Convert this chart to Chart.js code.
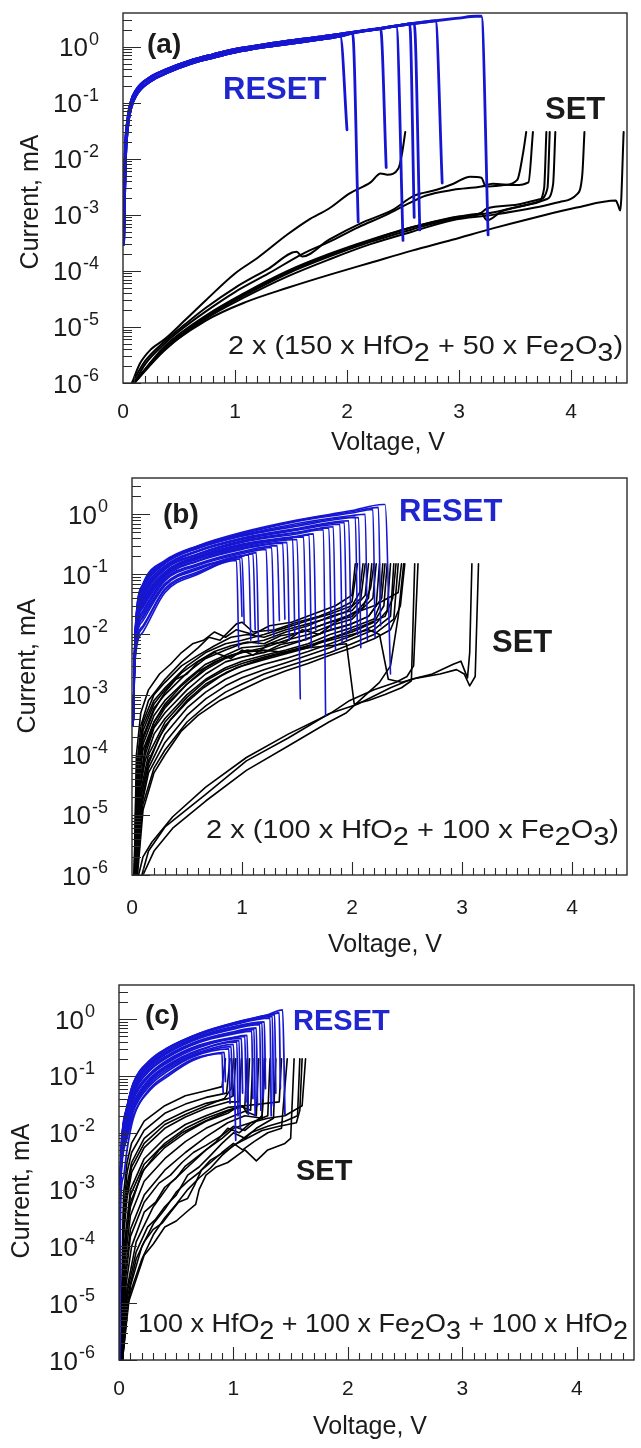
<!DOCTYPE html>
<html>
<head>
<meta charset="utf-8">
<script src="https://cdn.jsdelivr.net/npm/chart.js@4.4.0/dist/chart.umd.min.js"></script>
<style>
  html, body { margin: 0; padding: 0; background: #fff; }
  #wrap { position: relative; width: 641px; height: 1448px; overflow: hidden; }
  canvas { position: absolute; left: 0; }
</style>
</head>
<body>
<div id="wrap">
  <canvas id="chartA" width="641" height="470" style="top:0px"></canvas>
  <canvas id="chartB" width="641" height="490" style="top:470px"></canvas>
  <canvas id="chartC" width="641" height="488" style="top:960px"></canvas>
</div>
<script>
// ---- axis ticks (shared) ----
const xTicks = [0, 1, 2, 3, 4];
const yExponents = [0, -1, -2, -3, -4, -5, -6];

// ---- labels ----
const compA = [['2 x (150 x HfO', 0], ['2', 1], [' + 50 x Fe', 0], ['2', 1], ['O', 0], ['3', 1], [')', 0]];
const compB = [['2 x (100 x HfO', 0], ['2', 1], [' + 100 x Fe', 0], ['2', 1], ['O', 0], ['3', 1], [')', 0]];
const compC = [['100 x HfO', 0], ['2', 1], [' + 100 x Fe', 0], ['2', 1], ['O', 0], ['3', 1], [' + 100 x HfO', 0], ['2', 1]];

// ---- panel (a) : voltage V, current mA ----
const riseAlo = [[0.005,3e-4],[0.02,8e-3],[0.04,0.035],[0.07,0.08],[0.12,0.14],[0.24,0.24],[0.4,0.35],[0.6,0.5],[0.8,0.64],[1.0,0.8],[1.25,0.98],[1.5,1.15],[1.75,1.35],[1.94,1.55],[2.05,1.75],[2.3,2.1],[2.44,2.3]];
const riseAhi = [[0.005,3e-4],[0.02,0.012],[0.04,0.045],[0.07,0.1],[0.12,0.17],[0.24,0.28],[0.4,0.4],[0.6,0.56],[0.8,0.72],[1.0,0.9],[1.25,1.08],[1.5,1.28],[1.75,1.48],[2.0,1.75],[2.25,2.05],[2.5,2.45],[2.75,2.85],[3.0,3.25],[3.15,3.5]];
// [rise branch (0 = lower, 1 = upper), reset voltage, current at reset, end voltage, end current]
const resetDropsA = [
  [0, 1.94, 1.55, 2.0, 0.033], [0, 2.05, 1.75, 2.1, 7.5e-4], [0, 2.3, 2.1, 2.35, 7e-3], [0, 2.44, 2.3, 2.5, 3.5e-4],
  [1, 2.56, 2.55, 2.6, 9e-4], [1, 2.6, 2.62, 2.65, 5.4e-4], [1, 2.79, 2.9, 2.85, 3.7e-3], [1, 3.2, 3.5, 3.26, 4.4e-4]
];
const setA = [
  [[0.08,1e-6],[0.15,2.2e-6],[0.25,4e-6],[0.37,6e-6],[0.55,1.3e-5],[0.74,3e-5],[1.0,9e-5],[1.2,1.7e-4],[1.47,4.5e-4],[1.65,8e-4],[1.84,1.3e-3],[2.02,2.4e-3],[2.21,3.8e-3],[2.3,5.5e-3],[2.36,5.2e-3],[2.46,6.8e-3],[2.49,0.012],[2.52,0.03]],
  [[0.08,1e-6],[0.2,2.5e-6],[0.37,5.5e-6],[0.55,1.1e-5],[0.74,2.2e-5],[1.0,5e-5],[1.3,1.1e-4],[1.55,2.2e-4],[1.6,1.8e-4],[1.84,3.6e-4],[2.15,7.5e-4],[2.4,1.2e-3],[2.6,2.2e-3],[2.8,2.8e-3],[2.95,3.6e-3],[3.1,4.8e-3],[3.2,4.6e-3],[3.24,3.2e-3],[3.4,3.4e-3],[3.52,4.2e-3],[3.57,0.012],[3.6,0.03]],
  [[0.1,1e-6],[0.2,2.2e-6],[0.37,5e-6],[0.55,1e-5],[0.74,1.9e-5],[1.0,4.2e-5],[1.3,9e-5],[1.6,2e-4],[1.84,3.3e-4],[2.1,6e-4],[2.35,1e-3],[2.55,1.6e-3],[2.7,2.2e-3],[2.95,2.8e-3],[3.2,3.2e-3],[3.3,3.6e-3],[3.5,3.4e-3],[3.62,3.8e-3],[3.66,0.03]],
  [[0.1,1e-6],[0.37,4.5e-6],[0.74,1.6e-5],[1.1,4.2e-5],[1.47,1e-4],[1.84,2e-4],[2.21,3.6e-4],[2.58,6e-4],[2.94,9e-4],[3.2,1.1e-3],[3.25,1.3e-3],[3.5,1.5e-3],[3.72,1.9e-3],[3.79,3e-3],[3.81,0.03]],
  [[0.1,1e-6],[0.37,4e-6],[0.74,1.5e-5],[1.1,3.8e-5],[1.47,9e-5],[1.84,1.8e-4],[2.21,3.3e-4],[2.58,5.5e-4],[2.94,8.5e-4],[3.3,1.1e-3],[3.6,1.5e-3],[3.78,1.9e-3],[3.84,3.5e-3],[3.86,0.03]],
  [[0.1,1e-6],[0.37,3.8e-6],[0.74,1.4e-5],[1.1,3.5e-5],[1.47,8e-5],[1.84,1.6e-4],[2.21,3e-4],[2.58,5e-4],[2.94,8e-4],[3.3,1e-3],[3.68,1.35e-3],[3.9,1.7e-3],[4.05,2.3e-3],[4.1,5e-3],[4.12,0.03]],
  [[0.1,1e-6],[0.3,3e-6],[0.74,1.3e-5],[1.1,2.8e-5],[1.47,5e-5],[1.84,8.5e-5],[2.21,1.4e-4],[2.58,2.3e-4],[2.94,3.6e-4],[3.31,5.8e-4],[3.68,9e-4],[4.05,1.35e-3],[4.4,1.8e-3],[4.42,1.5e-3],[4.44,1.2e-3],[4.47,0.03]],
  [[0.1,1e-6],[0.37,4.2e-6],[0.74,1.5e-5],[1.1,4e-5],[1.47,9.5e-5],[1.84,1.9e-4],[2.21,3.5e-4],[2.58,6e-4],[2.94,8.8e-4],[3.2,1.05e-3],[3.25,8e-4],[3.4,1.2e-3],[3.7,1.7e-3],[3.76,3e-3],[3.78,0.03]]
];

// ---- panel (b) ----
const resetB = [
  [[0.01,3e-4],[0.03,4e-3],[0.1,0.011],[0.3,0.05],[0.6,0.1],[0.95,0.17],[0.97,6e-3]],
  [[0.01,3e-4],[0.03,4.5e-3],[0.1,0.013],[0.3,0.055],[0.6,0.105],[0.98,0.18],[1.0,0.02]],
  [[0.01,3e-4],[0.03,5e-3],[0.1,0.014],[0.3,0.058],[0.6,0.11],[1.0,0.19],[1.02,0.015]],
  [[0.01,3e-4],[0.03,5.5e-3],[0.1,0.017],[0.3,0.065],[0.6,0.12],[1.06,0.21],[1.08,8e-3]],
  [[0.01,3e-4],[0.03,6e-3],[0.1,0.019],[0.3,0.068],[0.6,0.125],[1.0,0.2],[1.1,0.22],[1.12,0.012]],
  [[0.01,3e-4],[0.03,6e-3],[0.1,0.02],[0.3,0.07],[0.6,0.13],[1.0,0.2],[1.13,0.23],[1.15,7e-3]],
  [[0.01,3e-4],[0.03,6.5e-3],[0.1,0.022],[0.3,0.078],[0.6,0.14],[1.0,0.22],[1.22,0.26],[1.24,0.011]],
  [[0.01,3e-4],[0.03,7e-3],[0.1,0.024],[0.3,0.082],[0.6,0.145],[1.0,0.23],[1.27,0.28],[1.29,9e-3]],
  [[0.01,3e-4],[0.03,7e-3],[0.1,0.025],[0.3,0.085],[0.6,0.15],[1.0,0.24],[1.32,0.3],[1.34,0.017]],
  [[0.01,3e-4],[0.03,7.5e-3],[0.1,0.028],[0.3,0.09],[0.6,0.165],[1.0,0.26],[1.41,0.34],[1.43,8e-3]],
  [[0.01,3e-4],[0.03,7.5e-3],[0.1,0.029],[0.3,0.095],[0.6,0.17],[1.0,0.27],[1.37,0.33],[1.39,0.018]],
  [[0.01,3e-4],[0.03,8e-3],[0.1,0.031],[0.3,0.1],[0.6,0.18],[1.0,0.28],[1.5,0.38],[1.53,8.5e-4]],
  [[0.01,3e-4],[0.03,8e-3],[0.1,0.033],[0.3,0.1],[0.6,0.185],[1.0,0.29],[1.46,0.39],[1.48,0.01]],
  [[0.01,3e-4],[0.03,8e-3],[0.1,0.034],[0.3,0.105],[0.6,0.19],[1.0,0.3],[1.56,0.42],[1.58,8e-3]],
  [[0.01,3e-4],[0.03,8.5e-3],[0.1,0.036],[0.3,0.108],[0.6,0.195],[1.0,0.31],[1.5,0.42],[1.61,0.45],[1.63,6e-3]],
  [[0.01,3e-4],[0.03,8.5e-3],[0.1,0.037],[0.3,0.11],[0.6,0.2],[1.0,0.32],[1.5,0.43],[1.65,0.47],[1.67,0.012]],
  [[0.01,3e-4],[0.03,9e-3],[0.1,0.04],[0.3,0.12],[0.6,0.21],[1.0,0.34],[1.5,0.47],[1.74,0.55],[1.76,4.5e-4]],
  [[0.01,3e-4],[0.03,9e-3],[0.1,0.042],[0.3,0.122],[0.6,0.215],[1.0,0.35],[1.5,0.49],[1.79,0.59],[1.81,0.012]],
  [[0.01,3e-4],[0.03,9e-3],[0.1,0.043],[0.3,0.125],[0.6,0.22],[1.0,0.36],[1.5,0.5],[1.83,0.62],[1.85,5.5e-3]],
  [[0.01,3e-4],[0.03,0.01],[0.1,0.047],[0.3,0.13],[0.6,0.24],[1.0,0.38],[1.5,0.54],[1.89,0.68],[1.91,7e-3]],
  [[0.01,3e-4],[0.03,0.01],[0.1,0.048],[0.3,0.135],[0.6,0.245],[1.0,0.39],[1.5,0.56],[1.93,0.73],[1.95,8e-3]],
  [[0.01,3e-4],[0.03,0.01],[0.1,0.05],[0.3,0.14],[0.6,0.25],[1.0,0.4],[1.5,0.58],[1.97,0.78],[1.99,0.011]],
  [[0.01,3e-4],[0.03,0.011],[0.1,0.058],[0.3,0.152],[0.6,0.275],[1.0,0.44],[1.5,0.66],[2.03,0.9],[2.05,0.01]],
  [[0.01,3e-4],[0.03,0.011],[0.1,0.055],[0.3,0.15],[0.6,0.27],[1.0,0.43],[1.5,0.63],[2.06,0.88],[2.08,6e-3]],
  [[0.01,3e-4],[0.03,0.011],[0.1,0.06],[0.3,0.155],[0.6,0.28],[1.0,0.45],[1.5,0.7],[2.0,0.95],[2.12,1.0],[2.14,8e-3]],
  [[0.01,3e-4],[0.03,0.012],[0.1,0.065],[0.3,0.16],[0.6,0.29],[1.0,0.47],[1.5,0.76],[2.0,1.05],[2.19,1.2],[2.21,9e-3]],
  [[0.01,3e-4],[0.03,0.012],[0.1,0.067],[0.3,0.165],[0.6,0.295],[1.0,0.48],[1.5,0.78],[2.0,1.1],[2.24,1.3],[2.26,0.014]],
  [[0.01,3e-4],[0.03,0.012],[0.1,0.07],[0.3,0.17],[0.6,0.3],[1.0,0.5],[1.5,0.8],[2.0,1.15],[2.28,1.45],[2.3,1.45],[2.35,2.2e-3]]
];
const setB = [
  [[0.02,1e-6],[0.04,5e-5],[0.08,3e-4],[0.15,8e-4],[0.3,1.8e-3],[0.45,3.5e-3],[0.6,6e-3],[0.7,9e-3],[0.8,8e-3],[0.95,0.015],[1.0,0.016],[1.1,0.011],[1.3,0.012],[1.5,0.016],[1.7,0.02],[1.9,0.028],[2.0,0.035],[2.05,0.15]],
  [[0.02,1e-6],[0.04,1e-4],[0.08,5e-4],[0.15,1.2e-3],[0.25,2.2e-3],[0.35,3.2e-3],[0.45,5e-3],[0.55,7e-3],[0.65,8e-3],[0.75,0.011],[0.85,9e-3],[0.95,0.012],[1.1,0.01],[1.25,0.014],[1.45,0.016],[1.65,0.022],[1.85,0.03],[2.0,0.045],[2.03,0.15]],
  [[0.02,1e-6],[0.05,6e-5],[0.1,3e-4],[0.2,8e-4],[0.3,1.3e-3],[0.5,3e-3],[0.67,5e-3],[0.85,7e-3],[1.0,8e-3],[1.2,0.01],[1.4,0.013],[1.6,0.017],[1.8,0.022],[2.0,0.03],[2.07,0.05],[2.1,0.15]],
  [[0.03,1e-6],[0.05,8e-5],[0.1,3.5e-4],[0.2,1e-3],[0.3,1.6e-3],[0.45,3e-3],[0.6,4.5e-3],[0.75,6.5e-3],[0.9,9e-3],[1.05,0.01],[1.2,9e-3],[1.4,0.012],[1.6,0.015],[1.8,0.019],[1.95,0.024],[2.08,0.04],[2.12,0.15]],
  [[0.02,1e-6],[0.05,4e-5],[0.1,2e-4],[0.2,6e-4],[0.3,1e-3],[0.5,2.3e-3],[0.67,4e-3],[0.85,5.5e-3],[1.0,7e-3],[1.2,8e-3],[1.4,0.011],[1.6,0.014],[1.8,0.02],[2.0,0.025],[2.12,0.045],[2.15,0.15]],
  [[0.03,1e-6],[0.06,4e-5],[0.1,1.5e-4],[0.2,4.5e-4],[0.3,8e-4],[0.5,1.8e-3],[0.67,3.2e-3],[0.85,4.5e-3],[1.0,6e-3],[1.2,6.5e-3],[1.4,9e-3],[1.6,0.012],[1.8,0.016],[2.0,0.02],[2.15,0.04],[2.18,0.15]],
  [[0.03,1e-6],[0.06,5e-5],[0.1,2.5e-4],[0.2,7e-4],[0.3,1.2e-3],[0.45,2.3e-3],[0.6,3.6e-3],[0.75,5.2e-3],[0.9,6.5e-3],[1.05,7.5e-3],[1.2,7e-3],[1.35,9.5e-3],[1.55,0.011],[1.75,0.015],[1.95,0.02],[2.1,0.028],[2.17,0.06],[2.2,0.15]],
  [[0.03,1e-6],[0.06,3e-5],[0.1,1.2e-4],[0.2,3.5e-4],[0.3,6.5e-4],[0.5,1.5e-3],[0.67,2.6e-3],[0.85,4e-3],[1.0,5e-3],[1.2,6e-3],[1.4,8e-3],[1.6,0.01],[1.8,0.014],[2.0,0.018],[2.19,0.04],[2.22,0.15]],
  [[0.03,1e-6],[0.07,3e-5],[0.12,1e-4],[0.2,2.8e-4],[0.3,5e-4],[0.5,1.2e-3],[0.67,2.2e-3],[0.85,3.5e-3],[1.0,4.2e-3],[1.2,5e-3],[1.4,6.5e-3],[1.6,8.5e-3],[1.8,0.012],[2.0,0.015],[2.15,0.02],[2.22,0.03],[2.25,0.15]],
  [[0.03,1e-6],[0.07,2.5e-5],[0.12,8e-5],[0.2,2.2e-4],[0.3,4e-4],[0.5,1e-3],[0.67,1.8e-3],[0.85,2.8e-3],[1.0,3.6e-3],[1.2,4.5e-3],[1.4,5.5e-3],[1.6,7e-3],[1.8,0.01],[2.0,0.013],[2.2,0.018],[2.25,0.03],[2.28,0.15]],
  [[0.04,1e-6],[0.07,3e-5],[0.12,1.3e-4],[0.2,3.5e-4],[0.3,7e-4],[0.45,1.4e-3],[0.6,2.4e-3],[0.75,3.5e-3],[0.9,4.5e-3],[1.05,5.5e-3],[1.2,5e-3],[1.35,6.8e-3],[1.55,8e-3],[1.75,0.011],[1.95,0.014],[2.15,0.02],[2.27,0.04],[2.3,0.15]],
  [[0.03,1e-6],[0.08,2e-5],[0.15,8e-5],[0.3,3e-4],[0.5,8e-4],[0.67,1.5e-3],[0.85,2.3e-3],[1.0,3e-3],[1.2,3.8e-3],[1.4,4.8e-3],[1.6,6e-3],[1.8,8.5e-3],[2.0,0.011],[2.2,0.016],[2.29,0.03],[2.32,0.15]],
  [[0.04,1e-6],[0.08,1.5e-5],[0.15,6e-5],[0.3,2.2e-4],[0.5,6e-4],[0.67,1.1e-3],[0.85,1.8e-3],[1.0,2.4e-3],[1.2,3.2e-3],[1.4,4e-3],[1.6,5.2e-3],[1.8,7e-3],[2.0,9.5e-3],[2.2,0.014],[2.32,0.025],[2.35,0.15]],
  [[0.04,1e-6],[0.09,1.5e-5],[0.15,5e-5],[0.3,1.6e-4],[0.5,4.5e-4],[0.67,8.5e-4],[0.85,1.4e-3],[1.0,1.9e-3],[1.2,2.6e-3],[1.4,3.4e-3],[1.6,4.5e-3],[1.8,6e-3],[2.0,8.5e-3],[2.2,0.012],[2.35,0.02],[2.38,0.15]],
  [[0.04,1e-6],[0.08,2e-5],[0.15,7e-5],[0.25,2e-4],[0.35,3.8e-4],[0.5,7.5e-4],[0.65,1.3e-3],[0.8,2e-3],[0.95,2.8e-3],[1.1,3.5e-3],[1.3,4.5e-3],[1.5,5.5e-3],[1.7,7.5e-3],[1.9,0.01],[2.1,0.014],[2.3,0.02],[2.37,0.04],[2.4,0.15]],
  [[0.04,1e-6],[0.1,1.5e-5],[0.2,6e-5],[0.3,1.2e-4],[0.5,3.5e-4],[0.67,6.5e-4],[0.85,1.1e-3],[1.0,1.5e-3],[1.2,2.2e-3],[1.4,2.9e-3],[1.6,3.8e-3],[1.8,5e-3],[2.0,7e-3],[2.2,0.01],[2.38,0.018],[2.42,0.15]],
  [[0.03,1e-6],[0.06,4e-5],[0.1,1.8e-4],[0.2,5.5e-4],[0.3,1.1e-3],[0.4,1.8e-3],[0.5,2.2e-3],[0.6,3.5e-3],[0.75,5e-3],[0.9,4e-3],[1.0,5.5e-3],[1.1,4.5e-3],[1.25,7e-3],[1.4,7.5e-3],[1.55,0.012],[1.7,0.01],[1.85,0.016],[2.0,0.022],[2.2,0.03],[2.42,0.05],[2.45,0.15]],
  [[0.05,1e-6],[0.1,1.2e-5],[0.2,5e-5],[0.3,1e-4],[0.45,2.5e-4],[0.6,4.5e-4],[0.8,8e-4],[1.0,1.2e-3],[1.2,1.8e-3],[1.4,2.5e-3],[1.6,3.3e-3],[1.8,4.5e-3],[2.0,6e-3],[2.2,8.5e-3],[2.35,0.012],[2.44,0.03],[2.48,0.15]],
  [[0.03,1e-6],[0.07,3e-5],[0.12,1.2e-4],[0.2,3e-4],[0.3,6e-4],[0.5,1.5e-3],[0.67,2.8e-3],[0.85,4.2e-3],[1.0,5e-3],[1.2,5.5e-3],[1.4,5e-3],[1.6,6e-3],[1.8,6.5e-3],[1.95,7e-3],[2.02,7e-4],[2.15,8e-4],[2.3,1e-3],[2.45,1.3e-3],[2.54,1.7e-3],[2.57,0.15]],
  [[0.03,1e-6],[0.08,2.5e-5],[0.15,1e-4],[0.3,3.5e-4],[0.5,9e-4],[0.67,1.7e-3],[0.85,2.6e-3],[1.0,3.3e-3],[1.2,4.2e-3],[1.4,5.2e-3],[1.6,6.5e-3],[1.8,8e-3],[2.0,0.01],[2.15,0.012],[2.25,0.01],[2.33,1.8e-3],[2.45,1.6e-3],[2.6,1.9e-3],[2.8,2.2e-3],[2.95,2.6e-3],[3.02,2.2e-3],[3.07,1.4e-3],[3.12,2e-3],[3.15,0.15]],
  [[0.06,1e-6],[0.1,2e-6],[0.18,3.5e-6],[0.37,9.3e-6],[0.67,2.9e-5],[1.04,9e-5],[1.42,2.2e-4],[1.79,4.7e-4],[1.98,8e-4],[2.2,1.2e-3],[2.4,1.6e-3],[2.5,2e-3],[2.56,3e-3],[2.6,0.15]],
  [[0.09,1e-6],[0.15,2.5e-6],[0.3,6.3e-6],[0.67,2.2e-5],[1.04,7.9e-5],[1.42,1.9e-4],[1.79,4.8e-4],[2.05,6.9e-4],[2.35,1.3e-3],[2.54,1.8e-3],[2.73,2.2e-3],[2.92,3.2e-3],[2.99,3.6e-3],[3.05,1.9e-3],[3.07,5e-3],[3.09,0.15]],
  [[0.1,1e-6],[0.2,2.5e-6],[0.37,6e-6],[0.67,1.7e-5],[1.04,5.5e-5],[1.42,1.4e-4],[1.79,3.5e-4],[1.95,5e-4],[2.1,9e-4],[2.25,1.6e-3],[2.35,3e-3],[2.42,0.02],[2.47,0.15]]
];

// ---- panel (c) ----
const resetC = [
  [[0.005,1e-6],[0.01,1e-4],[0.02,1e-3],[0.04,1.7e-3],[0.07,5e-3],[0.125,0.018],[0.27,0.056],[0.42,0.097],[0.65,0.19],[0.9,0.25],[0.91,0.05]],
  [[0.01,1e-3],[0.03,3.5e-3],[0.07,8e-3],[0.125,0.02],[0.27,0.06],[0.42,0.105],[0.65,0.2],[0.8,0.24],[0.92,0.26],[0.93,0.08]],
  [[0.01,1.2e-3],[0.03,4e-3],[0.07,9e-3],[0.125,0.024],[0.27,0.068],[0.42,0.12],[0.65,0.22],[0.96,0.3],[0.97,0.033]],
  [[0.01,1.2e-3],[0.03,4.5e-3],[0.07,0.01],[0.125,0.026],[0.27,0.074],[0.42,0.13],[0.68,0.24],[0.98,0.33],[0.99,0.045]],
  [[0.01,1.3e-3],[0.03,5e-3],[0.07,0.011],[0.125,0.028],[0.27,0.08],[0.42,0.14],[0.7,0.26],[1.0,0.36],[1.02,7.4e-3]],
  [[0.01,1.3e-3],[0.03,5.5e-3],[0.07,0.013],[0.125,0.033],[0.27,0.09],[0.42,0.155],[0.7,0.29],[1.03,0.4],[1.04,0.02]],
  [[0.01,1.3e-3],[0.03,5.2e-3],[0.07,0.012],[0.125,0.03],[0.27,0.085],[0.42,0.148],[0.7,0.28],[1.05,0.42],[1.06,0.012]],
  [[0.01,1.4e-3],[0.03,6e-3],[0.07,0.015],[0.125,0.038],[0.27,0.1],[0.42,0.17],[0.7,0.32],[1.07,0.46],[1.08,0.05]],
  [[0.01,1.4e-3],[0.03,6.2e-3],[0.07,0.016],[0.125,0.04],[0.27,0.105],[0.42,0.18],[0.7,0.34],[1.0,0.47],[1.1,0.5],[1.11,0.035]],
  [[0.01,1.4e-3],[0.03,6.5e-3],[0.07,0.017],[0.125,0.043],[0.27,0.11],[0.42,0.19],[0.7,0.35],[1.0,0.48],[1.12,0.52],[1.13,0.021]],
  [[0.01,1.5e-3],[0.03,7e-3],[0.07,0.019],[0.125,0.048],[0.27,0.125],[0.42,0.21],[0.7,0.39],[1.0,0.55],[1.16,0.62],[1.17,0.04]],
  [[0.01,1.5e-3],[0.03,7.2e-3],[0.07,0.02],[0.125,0.05],[0.27,0.13],[0.42,0.22],[0.7,0.4],[1.0,0.57],[1.18,0.66],[1.19,0.02]],
  [[0.01,1.5e-3],[0.03,7.5e-3],[0.07,0.021],[0.125,0.053],[0.27,0.14],[0.42,0.23],[0.7,0.42],[1.0,0.6],[1.2,0.7],[1.21,0.03]],
  [[0.01,1.5e-3],[0.03,8e-3],[0.07,0.023],[0.125,0.058],[0.27,0.15],[0.42,0.25],[0.7,0.46],[1.0,0.67],[1.23,0.8],[1.24,0.025]],
  [[0.01,1.5e-3],[0.03,8.2e-3],[0.07,0.024],[0.125,0.06],[0.27,0.155],[0.42,0.26],[0.7,0.48],[1.0,0.7],[1.25,0.85],[1.26,0.04]],
  [[0.01,1.6e-3],[0.03,8.5e-3],[0.07,0.025],[0.125,0.063],[0.27,0.16],[0.42,0.27],[0.7,0.5],[1.0,0.74],[1.27,0.9],[1.28,0.06]],
  [[0.01,1.6e-3],[0.03,9e-3],[0.07,0.027],[0.125,0.068],[0.27,0.17],[0.42,0.29],[0.7,0.53],[1.0,0.8],[1.32,1.05],[1.33,0.02]],
  [[0.01,1.6e-3],[0.03,9.5e-3],[0.07,0.0275],[0.125,0.07],[0.27,0.175],[0.42,0.295],[0.7,0.54],[1.0,0.82],[1.34,1.12],[1.35,0.03]],
  [[0.01,1.7e-3],[0.03,0.01],[0.07,0.028],[0.125,0.072],[0.27,0.18],[0.42,0.3],[0.7,0.55],[1.0,0.84],[1.36,1.2],[1.37,0.05]],
  [[0.01,1.7e-3],[0.03,0.0105],[0.07,0.0285],[0.125,0.074],[0.27,0.185],[0.42,0.305],[0.7,0.56],[1.0,0.85],[1.3,1.15],[1.4,1.3],[1.41,0.06]],
  [[0.005,1e-6],[0.01,1e-3],[0.03,0.011],[0.07,0.029],[0.125,0.075],[0.27,0.19],[0.42,0.31],[0.71,0.57],[1.0,0.86],[1.29,1.18],[1.43,1.46],[1.45,0.021]]
];
const setC = [
  [[0.02,1e-6],[0.03,1e-4],[0.04,8.6e-4],[0.07,3e-3],[0.11,6.6e-3],[0.22,0.016],[0.4,0.03],[0.58,0.045],[0.76,0.055],[0.9,0.065],[0.93,0.2]],
  [[0.02,1e-6],[0.04,4e-4],[0.07,2e-3],[0.11,4.5e-3],[0.22,0.011],[0.4,0.022],[0.58,0.032],[0.76,0.042],[0.94,0.05],[0.97,0.2]],
  [[0.02,1e-6],[0.04,2e-4],[0.07,9e-4],[0.11,2.5e-3],[0.22,6.5e-3],[0.4,0.014],[0.58,0.021],[0.76,0.03],[0.92,0.04],[0.98,0.06],[1.0,0.2]],
  [[0.02,1e-6],[0.04,2.5e-4],[0.07,1.2e-3],[0.11,3e-3],[0.22,8e-3],[0.4,0.016],[0.58,0.024],[0.76,0.033],[0.95,0.04],[1.0,0.045],[1.02,0.2]],
  [[0.02,1e-6],[0.04,1.5e-4],[0.07,7e-4],[0.11,2e-3],[0.22,5.5e-3],[0.4,0.012],[0.58,0.019],[0.76,0.027],[0.95,0.035],[1.05,0.035],[1.07,0.2]],
  [[0.02,1e-6],[0.05,1.2e-4],[0.1,1e-3],[0.22,3.5e-3],[0.4,8e-3],[0.58,0.014],[0.76,0.02],[0.95,0.028],[1.1,0.03],[1.12,0.2]],
  [[0.02,1e-6],[0.05,1e-4],[0.1,8e-4],[0.22,2.8e-3],[0.4,6.5e-3],[0.58,0.012],[0.76,0.018],[0.95,0.025],[1.08,0.03],[1.12,0.022],[1.14,0.2]],
  [[0.02,1e-6],[0.05,8e-5],[0.1,6e-4],[0.22,2.3e-3],[0.4,5.5e-3],[0.58,0.01],[0.76,0.016],[0.95,0.022],[1.05,0.03],[1.15,0.025],[1.17,0.2]],
  [[0.02,1e-6],[0.05,5e-5],[0.1,3.5e-4],[0.22,1.4e-3],[0.4,3.5e-3],[0.58,7e-3],[0.76,0.012],[0.95,0.018],[1.1,0.024],[1.2,0.02],[1.22,0.2]],
  [[0.02,1e-6],[0.05,3e-5],[0.1,2e-4],[0.22,8e-4],[0.4,2.2e-3],[0.58,4.5e-3],[0.76,8.5e-3],[0.95,0.015],[1.1,0.02],[1.25,0.018],[1.27,0.2]],
  [[0.03,1e-6],[0.06,3e-5],[0.1,1.5e-4],[0.22,6e-4],[0.35,1.3e-3],[0.45,1.8e-3],[0.55,3e-3],[0.65,4.5e-3],[0.76,6e-3],[0.9,9e-3],[1.0,0.013],[1.1,0.011],[1.2,0.016],[1.25,0.02],[1.28,0.2]],
  [[0.03,1e-6],[0.06,2e-5],[0.11,1e-4],[0.22,4e-4],[0.32,6e-4],[0.4,1.1e-3],[0.5,1.6e-3],[0.58,2.6e-3],[0.7,4e-3],[0.85,7e-3],[0.95,0.012],[1.05,0.01],[1.15,0.015],[1.3,0.02],[1.32,0.2]],
  [[0.03,1e-6],[0.07,1.5e-5],[0.15,8e-5],[0.25,2.2e-4],[0.32,3e-4],[0.4,5e-4],[0.5,8e-4],[0.6,1.8e-3],[0.7,2.5e-3],[0.8,4e-3],[0.9,6.5e-3],[1.0,0.01],[1.1,8e-3],[1.2,0.012],[1.35,0.018],[1.37,0.2]],
  [[0.02,1e-6],[0.04,3e-5],[0.07,2e-4],[0.1,5e-4],[0.2,2e-3],[0.35,5e-3],[0.55,0.01],[0.75,0.016],[0.95,0.024],[1.1,0.03],[1.4,0.035],[1.42,0.2]],
  [[0.03,1e-6],[0.07,1.2e-5],[0.15,6e-5],[0.22,1.2e-4],[0.3,2e-4],[0.38,2.6e-4],[0.45,4e-4],[0.52,6e-4],[0.6,7e-4],[0.66,1.2e-3],[0.72,2.2e-3],[0.8,3e-3],[0.9,4.5e-3],[1.0,6.5e-3],[1.08,5e-3],[1.18,7e-3],[1.3,0.01],[1.42,0.012],[1.47,0.2]],
  [[0.03,1e-6],[0.08,1e-5],[0.22,7e-5],[0.3,1.1e-4],[0.4,2.2e-4],[0.5,2.8e-4],[0.6,4.2e-4],[0.67,5.5e-4],[0.7,1e-3],[0.76,1.8e-3],[0.85,2.5e-3],[0.95,3e-3],[1.1,5e-3],[1.2,3.2e-3],[1.3,5e-3],[1.45,6.5e-3],[1.5,8e-3],[1.53,0.2]],
  [[0.03,1e-6],[0.1,2e-5],[0.2,1e-4],[0.3,2.5e-4],[0.4,4.5e-4],[0.5,9e-4],[0.6,1.4e-3],[0.7,2e-3],[0.8,3.3e-3],[0.95,5e-3],[1.05,7e-3],[1.15,0.01],[1.3,0.013],[1.45,0.016],[1.56,0.02],[1.58,0.2]],
  [[0.03,1e-6],[0.08,1.2e-5],[0.2,6e-5],[0.3,1.6e-4],[0.4,3.2e-4],[0.5,5.5e-4],[0.6,1e-3],[0.7,1.6e-3],[0.8,2.4e-3],[0.9,4e-3],[1.0,6e-3],[1.12,8e-3],[1.25,0.011],[1.4,0.013],[1.55,0.015],[1.58,0.025],[1.6,0.2]],
  [[0.03,1e-6],[0.07,1.8e-5],[0.15,1.2e-4],[0.3,5e-4],[0.45,1.3e-3],[0.6,2.5e-3],[0.76,5e-3],[0.9,8e-3],[1.0,0.012],[1.15,0.015],[1.3,0.018],[1.45,0.02],[1.6,0.03],[1.63,0.2]]
];

// build panel (a) reset curves from the rise branches and the drops
const resetA = resetDropsA.map(d => {
  const rise = d[0] ? riseAhi : riseAlo;
  return rise.filter(p => p[0] < d[1]).concat([[d[1], d[2]], [d[3], d[4]]]);
});

const FONT = '"Liberation Sans", Arial, Helvetica, sans-serif';
const BLUE_LINE = '#1616d2';
const BLUE_TEXT = '#1f26cf';
const INK = '#1b1b1b';

function makeDecor(p) {
  return {
    id: 'decor',
    afterDatasetsDraw(chart) {
      const ctx = chart.ctx, a = chart.chartArea;
      const xs = chart.scales.x, ys = chart.scales.y;
      ctx.save();

      // frame
      ctx.strokeStyle = '#2a2a2a';
      ctx.lineWidth = 1.4;
      ctx.strokeRect(a.left, a.top, a.right - a.left, a.bottom - a.top);

      // inward ticks
      ctx.lineWidth = 1.1;
      ctx.beginPath();
      for (let e = -6; e <= 0; e++) {
        for (let m = 1; m <= 9; m++) {
          const v = m * Math.pow(10, e);
          if (v >= ys.max * 0.97) continue;
          const py = Math.round(ys.getPixelForValue(v)) + 0.5;
          ctx.moveTo(a.left, py);
          ctx.lineTo(a.left + (m === 1 ? 18 : 9), py);
        }
      }
      for (let i = 1; i < 45; i++) {
        const px = Math.round(xs.getPixelForValue(i / 10)) + 0.5;
        ctx.moveTo(px, a.bottom);
        ctx.lineTo(px, a.bottom - (i % 10 === 0 ? 13 : 7));
      }
      ctx.stroke();

      ctx.fillStyle = INK;
      // y tick labels 10^n
      const xEnd = a.left - 24;
      yExponents.forEach(e => {
        const ty = ys.getPixelForValue(Math.pow(10, e));
        const ex = e === 0 ? '0' : '-' + (-e);
        ctx.font = '18px ' + FONT;
        const ew = ctx.measureText(ex).width;
        ctx.textAlign = 'left';
        ctx.textBaseline = 'alphabetic';
        ctx.fillText(ex, xEnd - ew, ty - 2);
        ctx.font = '26px ' + FONT;
        ctx.textAlign = 'right';
        ctx.fillText('10', xEnd - ew - 1, ty + 9.5);
      });

      // x tick labels
      ctx.font = '21px ' + FONT;
      ctx.textAlign = 'center';
      xTicks.forEach(v => {
        ctx.fillText(String(v), xs.getPixelForValue(v), a.bottom + p.xLabelDy + 7.5);
      });

      // axis titles
      ctx.font = '25px ' + FONT;
      ctx.textBaseline = 'middle';
      ctx.fillText('Voltage, V', p.xTitle[0], p.xTitle[1]);
      ctx.save();
      ctx.translate(p.yTitle[0], p.yTitle[1]);
      ctx.rotate(-Math.PI / 2);
      ctx.fillText('Current, mA', 0, 0);
      ctx.restore();

      // panel tag and curve labels
      ctx.textAlign = 'left';
      ctx.textBaseline = 'alphabetic';
      ctx.font = 'bold 28px ' + FONT;
      ctx.fillText(p.tag[0], p.tag[1], p.tag[2] + 10);
      ctx.font = 'bold ' + p.reset[2] + 'px ' + FONT;
      ctx.fillStyle = BLUE_TEXT;
      ctx.fillText('RESET', p.reset[0], p.reset[1] + p.reset[2] * 0.358);
      ctx.fillStyle = INK;
      ctx.font = 'bold ' + p.set[2] + 'px ' + FONT;
      ctx.fillText('SET', p.set[0], p.set[1] + p.set[2] * 0.358);

      // composition with subscripts, fitted to its width
      const c = p.comp;
      ctx.font = c.size + 'px ' + FONT;
      let total = 0;
      c.segs.forEach(s => { total += ctx.measureText(s[0]).width; });
      ctx.save();
      ctx.translate(c.right - c.width, c.base);
      ctx.scale(c.width / total, 1);
      let cx = 0;
      c.segs.forEach(s => {
        ctx.fillText(s[0], cx, s[1] ? 7 : 0);
        cx += ctx.measureText(s[0]).width;
      });
      ctx.restore();

      ctx.restore();
    }
  };
}

function makeChart(id, p, resets, sets) {
  const datasets = [];
  resets.forEach(c => datasets.push({
    data: c.map(pt => ({x: pt[0], y: pt[1]})),
    borderColor: BLUE_LINE, borderWidth: p.blueWidth, order: 0,
    cubicInterpolationMode: 'monotone'
  }));
  sets.forEach(c => datasets.push({
    data: c.map(pt => ({x: pt[0], y: pt[1]})),
    borderColor: '#000', borderWidth: p.blackWidth, order: 1,
    cubicInterpolationMode: p.smoothSet ? 'monotone' : 'default'
  }));
  return new Chart(document.getElementById(id), {
    type: 'line',
    data: {datasets},
    options: {
      responsive: false,
      animation: false,
      devicePixelRatio: 1,
      events: [],
      layout: {padding: p.pad},
      elements: {
        point: {radius: 0},
        line: {tension: 0, fill: false, borderJoinStyle: 'round', borderCapStyle: 'round'}
      },
      plugins: {legend: {display: false}, tooltip: {enabled: false}},
      scales: {
        x: {type: 'linear', min: 0, max: 4.5, display: false},
        y: {type: 'logarithmic', min: 1e-6, max: 4, display: false}
      }
    },
    plugins: [makeDecor(p)]
  });
}

const panelA = {
  pad: {left: 123, top: 13, right: 14, bottom: 87}, blueWidth: 2.8, blackWidth: 2, smoothSet: true,
  xLabelDy: 27, xTitle: [388, 443], yTitle: [31, 202],
  tag: ['(a)', 147, 43], reset: [223, 88, 31], set: [545, 108, 31],
  comp: {segs: compA, right: 623, base: 354, width: 395, size: 26}
};
const panelB = {
  pad: {left: 132, top: 8, right: 14, bottom: 85}, blueWidth: 1.6, blackWidth: 1.6, smoothSet: false,
  xLabelDy: 31.5, xTitle: [385, 475], yTitle: [28, 196],
  tag: ['(b)', 163, 43], reset: [399, 40, 31], set: [492, 171, 31],
  comp: {segs: compB, right: 619, base: 368, width: 413, size: 26}
};
const panelC = {
  pad: {left: 119, top: 25, right: 7, bottom: 88}, blueWidth: 1.8, blackWidth: 1.6, smoothSet: false,
  xLabelDy: 27.5, xTitle: [370, 467], yTitle: [22, 231],
  tag: ['(c)', 145, 54], reset: [293, 60, 29], set: [296, 210, 29],
  comp: {segs: compC, right: 628, base: 372, width: 490, size: 25}
};

makeChart('chartA', panelA, resetA, setA);
makeChart('chartB', panelB, resetB, setB);
makeChart('chartC', panelC, resetC, setC);
</script>
</body>
</html>
